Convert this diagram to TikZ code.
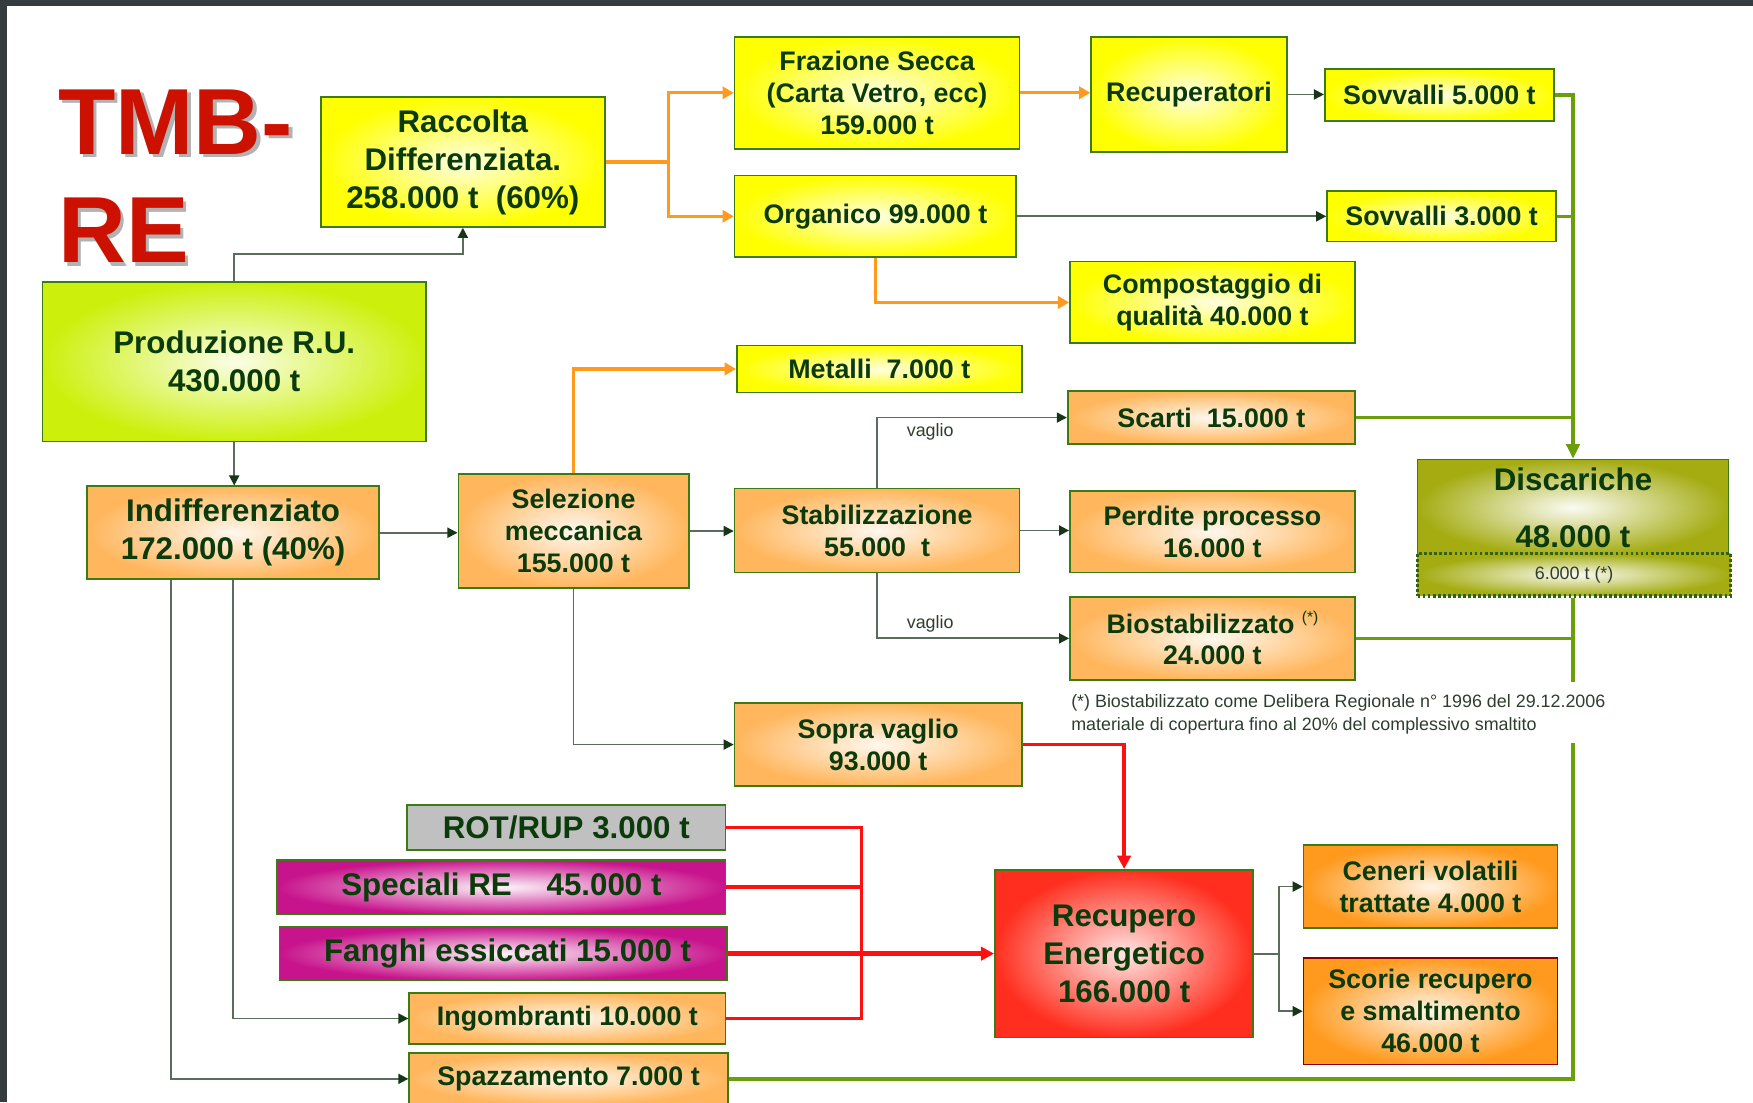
\documentclass[tikz,border=0pt]{standalone}
\usepackage{fontspec}
\setmainfont{Liberation Sans}
\usetikzlibrary{arrows.meta}
\definecolor{frame}{HTML}{353C40}
\definecolor{txt}{HTML}{0B3A0B}
\definecolor{bord}{HTML}{3C7A14}
\definecolor{yel}{HTML}{FFFF00}
\definecolor{lime}{HTML}{CCF00C}
\definecolor{orl}{HTML}{FFB65C}
\definecolor{ord}{HTML}{FF9A1E}
\definecolor{rdb}{HTML}{FF2E1E}
\definecolor{mag}{HTML}{C8148C}
\definecolor{gry}{HTML}{C0C0C0}
\definecolor{olv}{HTML}{A4AC12}
\definecolor{dkline}{HTML}{5A6D5A}
\definecolor{dkhead}{HTML}{173517}
\definecolor{orline}{HTML}{FF9A1E}
\definecolor{grline}{HTML}{6A9E0A}
\definecolor{rdline}{HTML}{FF1010}
\definecolor{ttl}{HTML}{CC1100}
\definecolor{fn}{HTML}{2E3E2E}
\newcommand\fA{\fontsize{28}{34}\selectfont\bfseries}
\newcommand\fB{\fontsize{24}{28.5}\selectfont\bfseries}
\newcommand\fC{\fontsize{16}{20}\selectfont}
\newcommand\fT{\fontsize{84}{90}\selectfont\bfseries}
\tikzset{
  boxbase/.style={rectangle, draw=bord, line width=1.5pt, inner sep=0pt, align=center, text=txt, font=\fB},
  sz/.style 2 args={minimum width=#1pt, minimum height=#2pt},
  ybox/.style={boxbase, inner color=yel!12, outer color=yel},
  lbox/.style={boxbase, inner color=lime!10, outer color=lime},
  obox/.style={boxbase, inner color=orl!10, outer color=orl},
  dbox/.style={boxbase, inner color=ord!10, outer color=ord},
  rbox/.style={boxbase, inner color=rdb!12, outer color=rdb},
  mbox/.style={boxbase, inner color=mag!5, outer color=mag},
  gbox/.style={boxbase, fill=gry},
  vbox/.style={boxbase, inner color=olv!5, outer color=olv},
  dk/.style={draw=dkline, line width=1.6pt},
  dkA/.style={dk, -{Triangle[length=9pt,width=9pt,color=dkhead]}},
  orl/.style={draw=orline, line width=3pt},
  orA/.style={orl, -{Triangle[length=10pt,width=11pt]}},
  grl/.style={draw=grline, line width=3pt},
  grA/.style={grl, -{Triangle[length=13pt,width=12pt]}},
  rdl/.style={draw=rdline, line width=3pt},
  rdA/.style={rdl, -{Triangle[length=12pt,width=12pt]}},
  ttlstyle/.style={font=\fT, inner sep=0pt, anchor=base west},
  small/.style={font=\fC, text=fn, inner sep=0pt}
}
\begin{document}
\begin{tikzpicture}[x=1pt,y=-1pt]
\clip (0,0) rectangle (1568,986);
\fill[white] (0,0) rectangle (1568,986);
\fill[frame] (0,0) rectangle (1568,5);
\fill[frame] (0,0) rectangle (6,986);

% title
\node[ttlstyle, text=gray!60] (ts1) at (55,141) {TMB-};
\node[ttlstyle, text=ttl] (t1) at (52,138) {TMB-};
\node[ttlstyle, text=gray!60] (ts2) at (55,238) {RE};
\node[ttlstyle, text=ttl] (t2) at (52,235) {RE};

% boxes
\node[ybox, sz={254}{116}, font=\fA] (rac) at (414,145) {Raccolta\\Differenziata.\\258.000 t~~(60\%)};
\node[lbox, sz={343}{143}, font=\fA] (prod) at (209.5,323.5) {Produzione R.U.\\430.000 t};
\node[ybox, sz={255}{100}] (fraz) at (784.5,83) {Frazione Secca\\(Carta Vetro, ecc)\\159.000 t};
\node[ybox, sz={175}{103}] (recu) at (1063.5,84.5) {Recuperatori};
\node[ybox, sz={205}{46}] (sov5) at (1287.5,85) {Sovvalli 5.000 t};
\node[ybox, sz={252}{73}] (org) at (783,193.5) {Organico 99.000 t};
\node[ybox, sz={205}{45}] (sov3) at (1289.5,193.5) {Sovvalli 3.000 t};
\node[ybox, sz={255}{73}] (comp) at (1084.5,270.5) {Compostaggio di\\qualità 40.000 t};
\node[ybox, sz={255}{42}] (met) at (786.5,330) {Metalli~~7.000 t};
\node[obox, sz={257}{47}] (scarti) at (1083.5,373.5) {Scarti~~15.000 t};
\node[vbox, sz={278}{86}, font=\fA] (disc) at (1407,454) {Discariche\\[17pt]48.000 t};
\node[vbox, sz={280}{38}, draw=bord!80!black, line width=3pt, dash pattern=on 2.5pt off 2pt, font=\fC, text=fn] (dot) at (1408,514) {6.000 t (*)};
\node[obox, sz={261}{83}, font=\fA] (indiff) at (208.5,476.5) {Indifferenziato\\172.000 t (40\%)};
\node[obox, sz={206}{102}] (sel) at (513,475) {Selezione\\meccanica\\155.000 t};
\node[obox, sz={255}{75}] (stab) at (784.5,474.5) {Stabilizzazione\\55.000~~t};
\node[obox, sz={255}{73}] (perd) at (1084.5,475.5) {Perdite processo\\16.000 t};
\node[obox, sz={255}{74}] (bio) at (1084.5,571) {Biostabilizzato {\fontsize{14}{14}\selectfont\mdseries\raisebox{9pt}{(*)}}\\24.000 t};
\node[obox, sz={257}{74}] (sopra) at (785.5,666) {Sopra vaglio\\93.000 t};
\node[gbox, sz={285}{40}, font=\fA] (rot) at (506.5,740) {ROT/RUP 3.000 t};
\node[mbox, sz={401}{49}, font=\fA] (spec) at (448.5,793.5) {Speciali RE~~~~45.000 t};
\node[mbox, sz={400}{48}, font=\fA] (fang) at (450,853) {\hspace{8pt}Fanghi essiccati 15.000 t};
\node[obox, sz={283}{46}] (ingo) at (507.5,911) {Ingombranti 10.000 t};
\node[obox, sz={285}{46}] (spaz) at (508.5,965) {Spazzamento 7.000 t};
\node[rbox, sz={231}{150}, font=\fA] (recen) at (1005.5,853) {Recupero\\Energetico\\166.000 t};
\node[dbox, sz={227}{74}] (cen) at (1279.5,793) {Ceneri volatili\\trattate 4.000 t};
\node[dbox, sz={227}{95}, draw=red!55!black] (scor) at (1279.5,904.5) {Scorie recupero\\e smaltimento\\46.000 t};

% footnote
\node[small, anchor=base west] (fn1) at (958,633) {(*) Biostabilizzato come Delibera Regionale n° 1996 del 29.12.2006};
\node[small, anchor=base west] (fn2) at (958,653) {materiale di copertura fino al 20\% del complessivo smaltito};

% connectors: top
\draw[dkA] (prod.north) -- ++(0,-24) -| (rac.south);
\coordinate (oj) at (598,145);
\draw[orl] (rac.east) -- (oj);
\draw[orA] (oj) |- (fraz.west);
\draw[orA] (oj) |- (org.west);
\draw[orA] (fraz.east) -- (fraz.east -| recu.west);
\draw[dkA] (recu.east) -- (recu.east -| sov5.west);
\draw[dkA] (org.east) -- (org.east -| sov3.west);
\draw[orA] (org.south) |- (comp.west);

% green to discariche
\draw[grA] (sov5.east) -| (disc.north);
\draw[grl] (sov3.east) -- (sov3.east -| disc.north);
\draw[grl] (scarti.east) -- (scarti.east -| disc.north);
\coordinate (gtop) at (1407,610);
\coordinate (gbot) at (1407,665);
\draw[grl] (dot.south -| disc.south) -- (gtop);
\draw[grl] (bio.east) -- (bio.east -| disc.south);
\draw[grl] (spaz.east) -| (gbot);

% middle
\draw[dkA] (prod.south) -- (prod.south |- indiff.north);
\draw[dkA] (indiff.east) -- (indiff.east -| sel.west);
\draw[orA] (sel.north) |- (met.west);
\draw[dkA] (sel.east) -- (sel.east -| stab.west);
\draw[dkA] (sel.south) |- (sopra.west);
\draw[dkA] (stab.north) |- (scarti.west);
\draw[dkA] (stab.east) -- (stab.east -| perd.west);
\draw[dkA] (stab.south) |- (bio.west);
\node[small, font=\fC] (v1) at (832,386) {vaglio};
\node[small, font=\fC] (v2) at (832,558) {vaglio};

% red
\draw[rdA] (sopra.east) -| (recen.north);
\draw[rdl] (rot.east) -- ++(121,0) coordinate (rj) |- (ingo.east);
\draw[rdl] (spec.east) -- (spec.east -| rj);
\draw[rdA, line width=4pt] (fang.east) -- (fang.east -| recen.west);

% indifferenziato down
\draw[dkA] (indiff.south) |- (ingo.west);
\draw[dkA] ([xshift=-55.5pt]indiff.south) |- (spaz.west);

% recupero outputs
\draw[dk] (recen.east) -- ++(22,0) coordinate (ej);
\draw[dkA] (ej) |- (cen.west);
\draw[dkA] (ej) |- (scor.west);
\end{tikzpicture}
\end{document}
